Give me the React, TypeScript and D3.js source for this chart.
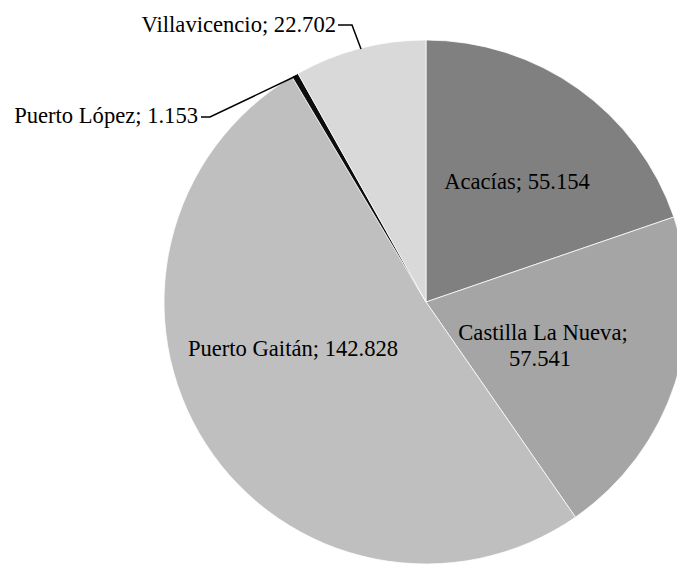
import React from "react";
import * as d3 from "d3";

const categories = ["Acacías", "Castilla La Nueva", "Puerto Gaitán", "Puerto López", "Villavicencio"];
const values = [55.154, 57.541, 142.828, 1.153, 22.702];
const valueLabels = ["55.154", "57.541", "142.828", "1.153", "22.702"];
const colors = ["#808080", "#a5a5a5", "#bfbfbf", "#0d0d0d", "#d9d9d9"];

const W = 677;
const H = 564;
const CX = 426;
const CY = 302;
const R = 262;
const FONT = "Liberation Serif";
const FS = 22.6;

export default function App() {
  const data = categories.map((c, i) => ({ c, v: values[i], l: valueLabels[i], col: colors[i] }));
  const pie = d3.pie<any>().value((d) => d.v).sort(null).startAngle(0).endAngle(2 * Math.PI);
  const arcs = pie(data);
  const arc = d3.arc<any>().innerRadius(0).outerRadius(R);
  const ts = { fontFamily: FONT } as React.CSSProperties;

  return (
    <svg
      width={W}
      height={H}
      style={{ position: "absolute", left: 0, top: 0, background: "#fff", overflow: "hidden" }}
    >
      <g transform={`translate(${CX},${CY})`}>
        {arcs.map((a, i) => (
          <path key={i} d={arc(a) as string} fill={a.data.col} stroke="#fff" strokeWidth={0.75} />
        ))}
      </g>
      <g fontSize={FS} fill="#000">
        <text style={ts} x={517} y={189} textAnchor="middle">{`${categories[0]}; ${valueLabels[0]}`}</text>
        <text style={ts} x={543} y={340} textAnchor="middle">{`${categories[1]};`}</text>
        <text style={ts} x={540} y={366} textAnchor="middle">{valueLabels[1]}</text>
        <text style={ts} x={293} y={356} textAnchor="middle">{`${categories[2]}; ${valueLabels[2]}`}</text>
        <text style={ts} x={198} y={123} textAnchor="end">{`${categories[3]}; ${valueLabels[3]}`}</text>
        <text style={ts} x={336} y={32} textAnchor="end">{`${categories[4]}; ${valueLabels[4]}`}</text>
      </g>
      <g fill="none" stroke="#000" strokeWidth={1.5}>
        <polyline points="201,117 210,117 296,76" />
        <polyline points="338,25 352,25 361,49" />
      </g>
    </svg>
  );
}
